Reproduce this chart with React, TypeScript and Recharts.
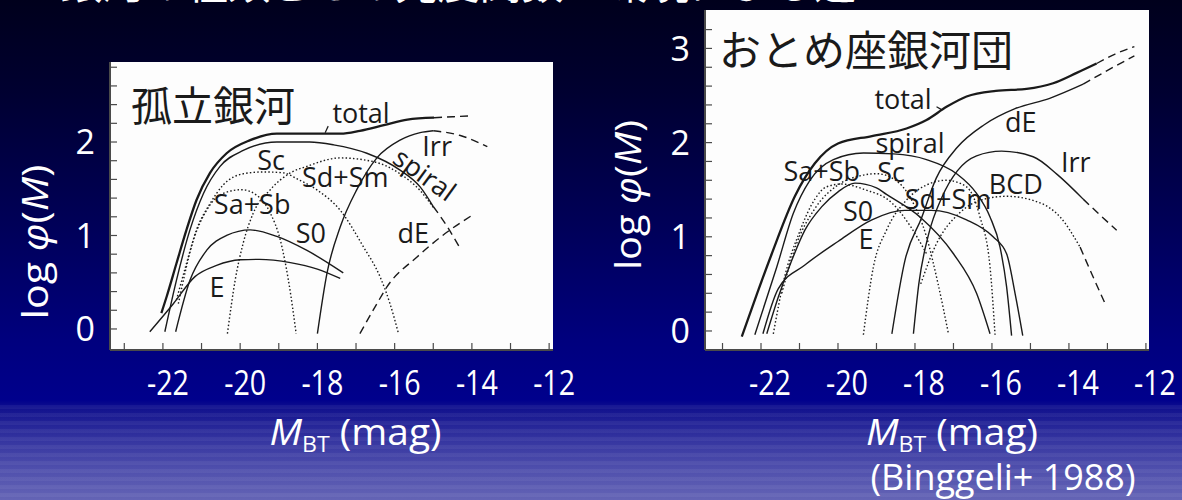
import React from 'react';
import {
  LineChart,
  Line,
  XAxis,
  YAxis,
  ReferenceArea,
  ReferenceDot,
  ReferenceLine,
} from 'recharts';

type Pair = [number, number];

// ---------- Field galaxies (孤立銀河): [M_BT, log phi] ----------
const fieldTotal: Pair[] = [
  [-22.04, 0.17], [-21.9, 0.35], [-21.65, 0.7], [-21.39, 1.06], [-21.13, 1.38],
  [-20.78, 1.67], [-20.35, 1.88], [-19.74, 2.02], [-19.05, 2.09], [-18.2, 2.09],
  [-17.4, 2.09], [-16.9, 2.12], [-16.28, 2.18], [-15.67, 2.24], [-14.98, 2.26],
];
const fieldTotalFaint: Pair[] = [[-14.98, 2.26], [-14.5, 2.27], [-13.98, 2.28]];
const fieldSpiral: Pair[] = [
  [-21.95, -0.03], [-21.65, 0.52], [-21.3, 1.06], [-20.95, 1.45], [-20.52, 1.74],
  [-19.92, 1.91], [-19.05, 2.0], [-18.2, 2.0], [-17.58, 1.97], [-16.72, 1.88],
  [-15.86, 1.7], [-15.34, 1.52], [-15.0, 1.31],
];
const fieldSpiralFaint: Pair[] = [[-15.0, 1.31], [-14.63, 1.09], [-14.33, 0.88]];
const fieldIrr: Pair[] = [
  [-18.0, -0.05], [-17.75, 0.6], [-17.41, 1.09], [-16.98, 1.49], [-16.46, 1.83],
  [-15.86, 2.02], [-15.34, 2.1], [-15.0, 2.12],
];
const fieldIrrFaint: Pair[] = [[-15.0, 2.12], [-14.3, 2.07], [-13.6, 1.95]];
const fieldDE: Pair[] = [
  [-16.9, -0.05], [-16.46, 0.27], [-16.2, 0.45], [-15.42, 0.77], [-14.63, 1.04], [-13.98, 1.22],
];
const fieldE: Pair[] = [
  [-22.34, -0.03], [-21.73, 0.27], [-21.17, 0.56], [-20.61, 0.68], [-20.0, 0.74],
  [-19.5, 0.745], [-18.7, 0.71], [-18.0, 0.64], [-17.41, 0.54],
];
const fieldS0: Pair[] = [
  [-21.67, -0.03], [-21.3, 0.52], [-20.87, 0.84], [-20.35, 1.0], [-19.74, 1.06],
  [-19.05, 0.99], [-18.27, 0.84], [-17.33, 0.6],
];
const fieldSaSb: Pair[] = [
  [-21.6, 0.27], [-21.21, 0.95], [-20.87, 1.27], [-20.44, 1.45], [-19.96, 1.49],
  [-19.57, 1.43], [-19.22, 1.24], [-18.96, 0.95], [-18.75, 0.52], [-18.55, -0.05],
];
const fieldSc: Pair[] = [
  [-21.65, 0.31], [-21.39, 0.7], [-21.13, 1.06], [-20.78, 1.34], [-20.44, 1.54],
  [-19.92, 1.66], [-19.4, 1.68], [-18.88, 1.67], [-18.5, 1.6], [-18.02, 1.49],
  [-17.41, 1.27], [-16.81, 0.88], [-16.38, 0.56], [-16.12, 0.27], [-15.9, -0.05],
];
const fieldSdSm: Pair[] = [
  [-20.33, -0.05], [-20.13, 0.52], [-19.92, 0.92], [-19.66, 1.24], [-19.22, 1.49],
  [-18.7, 1.67], [-18.27, 1.74], [-17.41, 1.83], [-16.55, 1.79], [-15.86, 1.66],
  [-15.34, 1.48], [-15.0, 1.3],
];

// ---------- Virgo cluster (おとめ座銀河団) ----------
const virgoTotal: Pair[] = [
  [-22.5, -0.06], [-22.1, 0.4], [-21.72, 0.82], [-21.12, 1.43], [-20.6, 1.78],
  [-20.0, 1.99], [-19.12, 2.07], [-18.22, 2.15], [-17.7, 2.24], [-17.18, 2.38],
  [-16.66, 2.49], [-15.9, 2.55], [-15.1, 2.57], [-14.41, 2.63], [-13.8, 2.74], [-13.28, 2.84],
];
const virgoTotalFaint: Pair[] = [[-13.28, 2.84], [-12.8, 2.94], [-12.3, 3.02]];
const virgoSpiral: Pair[] = [
  [-22.16, -0.04], [-21.59, 0.68], [-21.16, 1.25], [-20.73, 1.6], [-20.12, 1.82],
  [-19.34, 1.89], [-18.56, 1.88], [-17.7, 1.82], [-16.92, 1.67], [-16.4, 1.46],
  [-16.05, 1.21], [-15.79, 0.89], [-15.62, 0.47], [-15.49, -0.05],
];
const virgoDE: Pair[] = [
  [-18.6, -0.03], [-18.26, 0.75], [-17.83, 1.2], [-17.45, 1.62], [-16.9, 1.95],
  [-16.2, 2.19], [-15.4, 2.36], [-14.5, 2.47], [-13.63, 2.62],
];
const virgoDEFaint: Pair[] = [[-13.63, 2.62], [-12.94, 2.78], [-12.3, 2.92]];
const virgoIrr: Pair[] = [
  [-18.04, -0.03], [-17.9, 0.5], [-17.65, 1.02], [-17.3, 1.42], [-16.9, 1.7],
  [-16.4, 1.86], [-15.75, 1.91], [-14.93, 1.85], [-14.3, 1.66], [-13.63, 1.4],
];
const virgoIrrFaint: Pair[] = [[-13.63, 1.4], [-13.19, 1.23], [-12.76, 1.07]];
const virgoBCD: Pair[] = [
  [-17.85, 0.5], [-17.45, 0.92], [-16.85, 1.25], [-16.2, 1.4], [-15.62, 1.43],
  [-14.75, 1.36], [-14.23, 1.21], [-13.71, 0.89],
];
const virgoBCDFaint: Pair[] = [[-13.71, 0.89], [-13.4, 0.6], [-13.06, 0.29]];
const virgoE: Pair[] = [
  [-21.95, -0.03], [-21.55, 0.45], [-20.86, 0.7], [-20.0, 0.95], [-19.12, 1.18],
  [-18.26, 1.28], [-17.57, 1.28], [-16.66, 1.18], [-15.97, 1.0], [-15.62, 0.82],
  [-15.4, 0.4], [-15.2, -0.05],
];
const virgoS0: Pair[] = [
  [-21.85, -0.03], [-21.55, 0.36], [-21.2, 0.75], [-20.86, 1.07], [-20.42, 1.32],
  [-19.99, 1.48], [-19.56, 1.57], [-19.0, 1.52], [-18.74, 1.45], [-17.87, 1.21],
  [-17.0, 0.82], [-16.4, 0.4], [-16.05, -0.03],
];
const virgoSaSb: Pair[] = [
  [-21.68, -0.03], [-21.4, 0.55], [-21.0, 1.05], [-20.6, 1.4], [-20.3, 1.53],
  [-19.9, 1.56], [-19.3, 1.5], [-18.6, 1.36], [-18.1, 1.1], [-17.7, 0.82],
];
const virgoSc: Pair[] = [
  [-21.46, 0.4], [-21.1, 0.9], [-20.6, 1.3], [-20.0, 1.55], [-19.4, 1.65],
  [-19.0, 1.67], [-18.5, 1.6], [-18.1, 1.4], [-17.7, 1.0], [-17.4, 0.5], [-17.13, -0.03],
];
const virgoSdSm: Pair[] = [
  [-19.34, -0.04], [-19.08, 0.68], [-18.74, 1.07], [-18.22, 1.39], [-17.7, 1.55],
  [-17.18, 1.6], [-16.66, 1.53], [-16.31, 1.21], [-16.05, 0.68], [-15.92, -0.04],
];

// ---------- Axis ticks ----------
const magTicks = [-23, -22, -21, -20, -19, -18, -17, -16, -15, -14, -13, -12];
const magLabels = [-22, -20, -18, -16, -14, -12];
const fieldPhiTicks = [0, 0.2, 0.4, 0.6, 0.8, 1, 1.2, 1.4, 1.6, 1.8, 2, 2.2, 2.4, 2.6, 2.8];
const fieldPhiLabels = [0, 1, 2];
const virgoPhiTicks = [0, 0.2, 0.4, 0.6, 0.8, 1, 1.2, 1.4, 1.6, 1.8, 2, 2.2, 2.4, 2.6, 2.8, 3, 3.2];
const virgoPhiLabels = [0, 1, 2, 3];

// ---------- Curve labels (text, M_BT, log phi, angle) ----------
type Note = { text: string; m: number; v: number; angle?: number; big?: boolean };
const fieldNotes: Note[] = [
  { text: '孤立銀河', m: -20.7, v: 2.42, big: true },
  { text: 'total', m: -16.87, v: 2.32 },
  { text: 'Sc', m: -19.2, v: 1.81 },
  { text: 'Irr', m: -14.9, v: 1.96 },
  { text: 'Sd+Sm', m: -17.28, v: 1.63 },
  { text: 'spiral', m: -15.21, v: 1.66, angle: 36 },
  { text: 'Sa+Sb', m: -19.69, v: 1.34 },
  { text: 'S0', m: -18.17, v: 1.03 },
  { text: 'dE', m: -15.52, v: 1.03 },
  { text: 'E', m: -20.6, v: 0.45 },
];
const virgoNotes: Note[] = [
  { text: 'おとめ座銀河団', m: -19.27, v: 3.01, big: true },
  { text: 'total', m: -18.31, v: 2.47 },
  { text: 'dE', m: -15.25, v: 2.22 },
  { text: 'spiral', m: -18.13, v: 2.0 },
  { text: 'Irr', m: -13.82, v: 1.8 },
  { text: 'Sa+Sb', m: -20.42, v: 1.7 },
  { text: 'Sc', m: -18.62, v: 1.69 },
  { text: 'BCD', m: -15.38, v: 1.57 },
  { text: 'Sd+Sm', m: -17.14, v: 1.41 },
  { text: 'S0', m: -19.48, v: 1.28 },
  { text: 'E', m: -19.27, v: 0.98 },
];

const FONT = '"Open Sans", "DejaVu Sans", sans-serif';
const CJK = '"Noto Sans CJK JP", "Noto Sans CJK SC", sans-serif';
const INK = '#1a1a1a';

type Kind = 'bold' | 'solid' | 'dotted' | 'dashed';
type Series = { key: string; data: Pair[]; kind: Kind };

const kindStyle: Record<Kind, { strokeWidth: number; strokeDasharray?: string }> = {
  bold: { strokeWidth: 2.3 },
  solid: { strokeWidth: 1.4 },
  dotted: { strokeWidth: 1.4, strokeDasharray: '1.5 2.2' },
  dashed: { strokeWidth: 1.4, strokeDasharray: '8 5' },
};

const fieldSeries: Series[] = [
  { key: 'total', data: fieldTotal, kind: 'bold' },
  { key: 'totalFaint', data: fieldTotalFaint, kind: 'dashed' },
  { key: 'spiral', data: fieldSpiral, kind: 'solid' },
  { key: 'spiralFaint', data: fieldSpiralFaint, kind: 'dashed' },
  { key: 'irr', data: fieldIrr, kind: 'solid' },
  { key: 'irrFaint', data: fieldIrrFaint, kind: 'dashed' },
  { key: 'dE', data: fieldDE, kind: 'dashed' },
  { key: 'E', data: fieldE, kind: 'solid' },
  { key: 'S0', data: fieldS0, kind: 'solid' },
  { key: 'SaSb', data: fieldSaSb, kind: 'dotted' },
  { key: 'Sc', data: fieldSc, kind: 'dotted' },
  { key: 'SdSm', data: fieldSdSm, kind: 'dotted' },
];

const virgoSeries: Series[] = [
  { key: 'total', data: virgoTotal, kind: 'bold' },
  { key: 'totalFaint', data: virgoTotalFaint, kind: 'dashed' },
  { key: 'spiral', data: virgoSpiral, kind: 'solid' },
  { key: 'dE', data: virgoDE, kind: 'solid' },
  { key: 'dEFaint', data: virgoDEFaint, kind: 'dashed' },
  { key: 'irr', data: virgoIrr, kind: 'solid' },
  { key: 'irrFaint', data: virgoIrrFaint, kind: 'dashed' },
  { key: 'BCD', data: virgoBCD, kind: 'dotted' },
  { key: 'BCDFaint', data: virgoBCDFaint, kind: 'dashed' },
  { key: 'E', data: virgoE, kind: 'solid' },
  { key: 'S0', data: virgoS0, kind: 'solid' },
  { key: 'SaSb', data: virgoSaSb, kind: 'dotted' },
  { key: 'Sc', data: virgoSc, kind: 'dotted' },
  { key: 'SdSm', data: virgoSdSm, kind: 'dotted' },
];

const toPoints = (arr: Pair[]) => arr.map(([m, v]) => ({ m, v }));

type PanelProps = {
  width: number;
  height: number;
  margin: { top: number; right: number; bottom: number; left: number };
  xDomain: [number, number];
  yDomain: [number, number];
  yTicks: number[];
  yLabels: number[];
  series: Series[];
  notes: Note[];
  pointer: [Pair, Pair];
  bigSize: number;
  xLabelDx: number;
  yTitleX: number;
  yTitleY: number;
  yTitleLen: number;
  xTitleDx: number;
  source?: string;
};

function Panel(p: PanelProps) {
  const xTick = (t: any) => {
    const v = t.payload?.value;
    if (!magLabels.includes(v)) return <g />;
    return (
      <text
        x={t.x + p.xLabelDx}
        y={t.y}
        dy="0.36em"
        textAnchor="middle"
        fill="#fff"
        fontSize={34}
        fontFamily={FONT}
        textLength={42}
        lengthAdjust="spacingAndGlyphs"
      >
        {v}
      </text>
    );
  };
  const yTick = (t: any) => {
    const v = t.payload?.value;
    if (!p.yLabels.includes(v)) return <g />;
    return (
      <text x={t.x} y={t.y} dy="0.36em" textAnchor="end" fill="#fff" fontSize={34} fontFamily={FONT}>
        {v}
      </text>
    );
  };
  const xTitle = (props: any) => {
    const vb = props.viewBox;
    const cx = vb.x + vb.width / 2 + p.xTitleDx;
    return (
      <g>
        <text
          x={cx}
          y={vb.y + 95}
          textAnchor="middle"
          fill="#fff"
          fontSize={37}
          fontFamily={FONT}
          textLength={172}
          lengthAdjust="spacingAndGlyphs"
        >
          <tspan fontStyle="italic">M</tspan>
          <tspan fontSize={22} dy={7}>BT</tspan>
          <tspan dy={-7}> (mag)</tspan>
        </text>
        {p.source ? (
          <text
            x={cx + 51}
            y={vb.y + 140}
            textAnchor="middle"
            fill="#fff"
            fontSize={37}
            fontFamily={FONT}
            textLength={265}
            lengthAdjust="spacingAndGlyphs"
          >
            {p.source}
          </text>
        ) : null}
      </g>
    );
  };
  const yTitle = () => (
    <text
      x={p.yTitleX}
      y={p.yTitleY}
      transform={`rotate(-90, ${p.yTitleX}, ${p.yTitleY})`}
      textAnchor="middle"
      dominantBaseline="central"
      fill="#fff"
      fontSize={37}
      fontFamily={FONT}
      textLength={p.yTitleLen}
      lengthAdjust="spacingAndGlyphs"
    >
      log <tspan fontStyle="italic">φ</tspan>(<tspan fontStyle="italic">M</tspan>)
    </text>
  );
  const noteContent = (n: Note) => (props: any) => {
    const vb = props.viewBox;
    const cx = vb.x + vb.width / 2;
    const cy = vb.y + vb.height / 2;
    return (
      <text
        x={cx}
        y={cy}
        textAnchor="middle"
        dominantBaseline="central"
        fill={INK}
        fontSize={n.big ? p.bigSize : 27}
        fontFamily={n.big ? CJK : FONT}
        transform={n.angle ? `rotate(${n.angle}, ${cx}, ${cy})` : undefined}
      >
        {n.text}
      </text>
    );
  };

  const frame = { stroke: '#4a4a4a', strokeWidth: 2 };
  const tickLine = { stroke: '#4a4a4a', strokeWidth: 1.2 };

  return (
    <LineChart width={p.width} height={p.height} margin={p.margin}>
      <XAxis
        xAxisId="x"
        type="number"
        dataKey="m"
        domain={p.xDomain}
        allowDataOverflow
        ticks={magTicks}
        interval={0}
        tickSize={-7}
        tickMargin={40}
        tickLine={tickLine}
        axisLine={frame}
        height={60}
        tick={xTick}
        label={{ content: xTitle }}
      />
      <XAxis
        xAxisId="top"
        orientation="top"
        type="number"
        dataKey="m"
        domain={p.xDomain}
        allowDataOverflow
        ticks={magTicks}
        interval={0}
        tickSize={-7}
        tickLine={tickLine}
        axisLine={frame}
        tick={false}
        height={0}
      />
      <YAxis
        yAxisId="y"
        type="number"
        dataKey="v"
        domain={p.yDomain}
        allowDataOverflow
        ticks={p.yTicks}
        interval={0}
        tickSize={-7}
        tickMargin={22}
        tickLine={tickLine}
        axisLine={frame}
        width={60}
        tick={yTick}
        label={{ content: yTitle }}
      />
      <YAxis
        yAxisId="right"
        orientation="right"
        type="number"
        dataKey="v"
        domain={p.yDomain}
        allowDataOverflow
        ticks={p.yTicks}
        interval={0}
        tickSize={-7}
        tickLine={tickLine}
        axisLine={frame}
        tick={false}
        width={0}
      />
      <ReferenceArea
        xAxisId="x"
        yAxisId="y"
        x1={p.xDomain[0]}
        x2={p.xDomain[1]}
        y1={p.yDomain[0]}
        y2={p.yDomain[1]}
        fill="#fdfdfd"
        fillOpacity={1}
        stroke="none"
      />
      {p.series.map((s) => (
        <Line
          key={s.key}
          xAxisId="x"
          yAxisId="y"
          data={toPoints(s.data)}
          dataKey="v"
          type="monotone"
          stroke={INK}
          fill="none"
          dot={false}
          activeDot={false}
          isAnimationActive={false}
          {...kindStyle[s.kind]}
        />
      ))}
      <ReferenceLine
        xAxisId="x"
        yAxisId="y"
        segment={[
          { x: p.pointer[0][0], y: p.pointer[0][1] },
          { x: p.pointer[1][0], y: p.pointer[1][1] },
        ]}
        stroke={INK}
        strokeWidth={1.2}
      />
      {p.notes.map((n) => (
        <ReferenceDot
          key={n.text}
          xAxisId="x"
          yAxisId="y"
          x={n.m}
          y={n.v}
          r={0}
          fill="none"
          stroke="none"
          label={{ content: noteContent(n) }}
        />
      ))}
    </LineChart>
  );
}

export default function App() {
  return (
    <div
      style={{
        position: 'absolute',
        left: 0,
        top: 0,
        width: 1182,
        height: 500,
        overflow: 'hidden',
        background:
          'linear-gradient(180deg, #00001c 0%, #000030 18%, #000058 45%, #00007e 68%, #00008c 80%, #14148f 82%, #3535a0 88%, #5050ad 94%, #6464b5 100%)',
      }}
    >
      <div
        style={{
          position: 'absolute',
          left: 0,
          top: 405,
          width: 1182,
          height: 95,
          background:
            'repeating-linear-gradient(180deg, rgba(255,255,255,0.05) 0px, rgba(255,255,255,0.05) 4px, rgba(0,0,0,0) 4px, rgba(0,0,0,0) 8px)',
        }}
      />
      <div
        style={{
          position: 'absolute',
          left: 60,
          top: -40,
          fontSize: 42,
          lineHeight: '42px',
          color: '#fff',
          fontFamily: CJK,
          whiteSpace: 'nowrap',
        }}
      >
        銀河の種類ごとの光度関数：環境による違い
      </div>
      <div style={{ position: 'absolute', left: 0, top: 0 }}>
        <Panel
          width={600}
          height={500}
          margin={{ top: 62, right: 47, bottom: 90, left: 50 }}
          xDomain={[-23.37, -11.9]}
          yDomain={[-0.225, 2.856]}
          yTicks={fieldPhiTicks}
          yLabels={fieldPhiLabels}
          series={fieldSeries}
          notes={fieldNotes}
          pointer={[[-17.72, 2.17], [-17.8, 2.1]]}
          bigSize={41}
          xLabelDx={5}
          yTitleX={33}
          yTitleY={242}
          yTitleLen={155}
          xTitleDx={24}
        />
      </div>
      <div style={{ position: 'absolute', left: 600, top: 0 }}>
        <Panel
          width={582}
          height={500}
          margin={{ top: 10, right: 33, bottom: 90, left: 45 }}
          xDomain={[-23.455, -11.92]}
          yDomain={[-0.202, 3.408]}
          yTicks={virgoPhiTicks}
          yLabels={virgoPhiLabels}
          series={virgoSeries}
          notes={virgoNotes}
          pointer={[[-17.44, 2.38], [-17.31, 2.35]]}
          bigSize={42}
          xLabelDx={9}
          yTitleX={26}
          yTitleY={195}
          yTitleLen={150}
          xTitleDx={25}
          source="(Binggeli+ 1988)"
        />
      </div>
    </div>
  );
}
